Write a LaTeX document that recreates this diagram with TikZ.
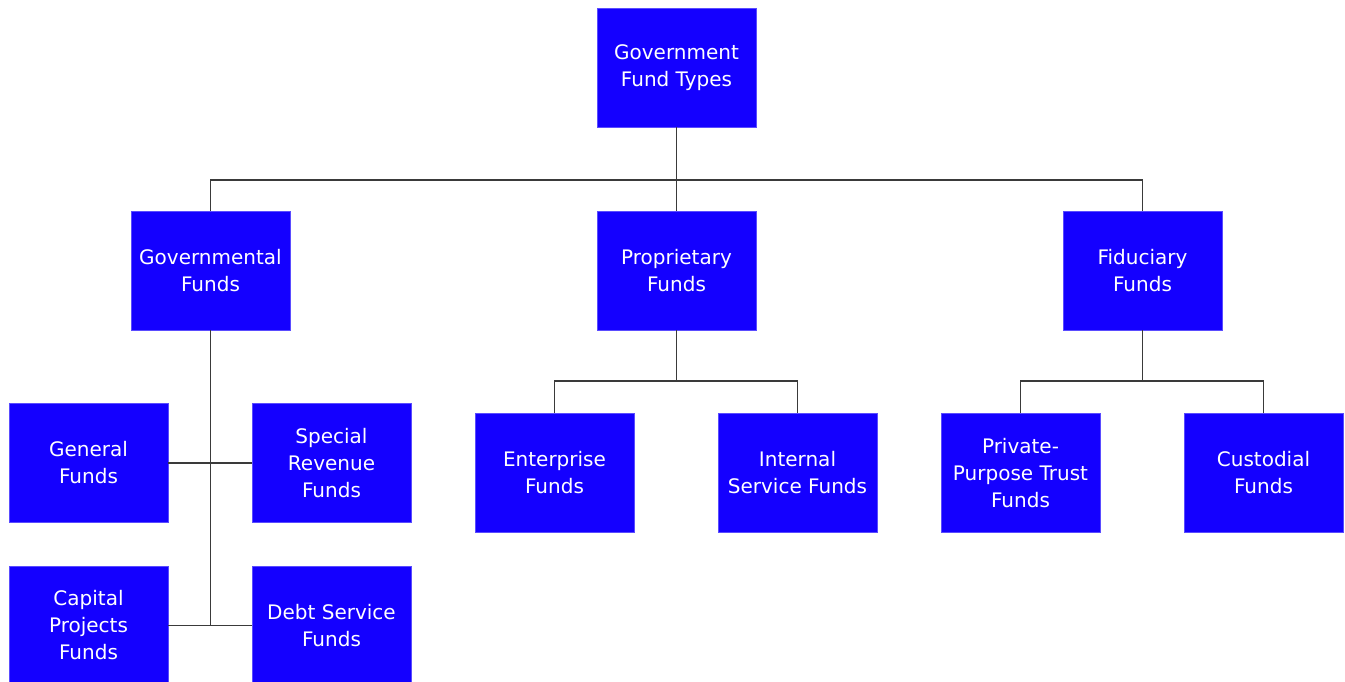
\documentclass[tikz,border=0pt]{standalone}
\usepackage{fontspec}
\setmainfont{DejaVu Sans}
\definecolor{boxblue}{HTML}{1400FF}
\definecolor{linegray}{HTML}{3A3A3A}
\begin{document}
\begin{tikzpicture}[x=1pt,y=-1pt,
  fundbox/.style={draw=boxblue!70!white,line width=0.8pt,fill=boxblue,text=white,minimum width=159pt,minimum height=119pt,inner sep=1pt,align=center,font=\fontsize{20}{27}\selectfont},
  conn/.style={draw=linegray,line width=1.4pt}]
\useasboundingbox (0,0) rectangle (1345,681);
\clip (0,0) rectangle (1345,681);
\node[fundbox] (top) at (676.5,67.5) {Government\\Fund Types};
\node[fundbox] (gov) at (210.5,270.5) {Governmental\\Funds};
\node[fundbox] (prop) at (676.5,270.5) {Proprietary\\Funds};
\node[fundbox] (fid) at (1142.5,270.5) {Fiduciary\\Funds};
\node[fundbox] (gen) at (88.5,463) {General\\Funds};
\node[fundbox] (spec) at (331.5,463) {Special\\Revenue\\Funds};
\node[fundbox] (cap) at (88.5,625.5) {Capital\\Projects\\Funds};
\node[fundbox] (debt) at (331.5,625.5) {Debt Service\\Funds};
\node[fundbox] (ent) at (554.5,473) {Enterprise\\Funds};
\node[fundbox] (int) at (797.5,473) {Internal\\Service Funds};
\node[fundbox] (priv) at (1020.5,473) {Private-\\Purpose Trust\\Funds};
\node[fundbox] (cust) at (1263.5,473) {Custodial\\Funds};
\coordinate (busA) at (676.5,180);
\coordinate (busP) at (676.5,381);
\coordinate (busF) at (1142.5,381);
\coordinate (j1) at (210.5,463);
\coordinate (j2) at (210.5,625.5);
\draw[conn] (top.south) -- (busA);
\draw[conn] (busA) -| (gov.north);
\draw[conn] (busA) -- (prop.north);
\draw[conn] (busA) -| (fid.north);
\draw[conn] (prop.south) -- (busP);
\draw[conn] (busP) -| (ent.north);
\draw[conn] (busP) -| (int.north);
\draw[conn] (fid.south) -- (busF);
\draw[conn] (busF) -| (priv.north);
\draw[conn] (busF) -| (cust.north);
\draw[conn] (gov.south) -- (j2);
\draw[conn] (gen.east) -- (spec.west);
\draw[conn] (cap.east) -- (debt.west);
\end{tikzpicture}
\end{document}
